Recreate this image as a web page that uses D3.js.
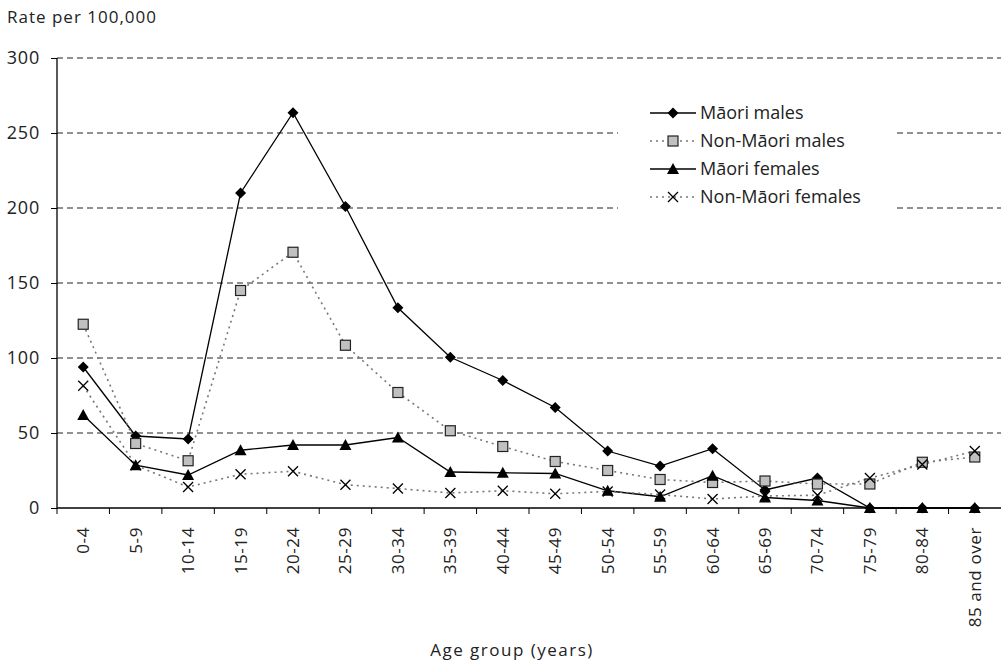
<!DOCTYPE html>
<html>
<head>
<meta charset="utf-8">
<script src="https://cdn.jsdelivr.net/npm/d3@7"></script>
<style>
  body { margin: 0; background: #fff; }
  text { font-family: "Open Sans", "Noto Sans", sans-serif; fill: #222; }
</style>
</head>
<body>
<div id="chart"></div>
<script>
// age groups on the x axis
var ageGroups = ["0-4", "5-9", "10-14", "15-19", "20-24", "25-29", "30-34", "35-39", "40-44",
                 "45-49", "50-54", "55-59", "60-64", "65-69", "70-74", "75-79", "80-84", "85 and over"];

// rates per 100,000
var maoriMales = [94, 48, 46, 210, 263.5, 201, 133.5, 100.5, 85, 67, 38, 28, 39.5, 12, 20, 0, 0, 0];
var nonMaoriMales = [122.5, 43, 31.5, 145, 170.5, 108.5, 77, 51.5, 41, 31, 25, 19, 17, 18, 16, 16, 30.5, 34];
var maoriFemales = [62, 28.5, 22, 38.5, 42, 42, 47, 24, 23.5, 23, 11.5, 7.5, 21.5, 7, 5, 0, 0, 0];
var nonMaoriFemales = [81.5, 28.5, 14, 22.5, 24.5, 15.5, 13, 10, 11.5, 9.5, 11, 9, 6, 8, 8.5, 20, 29, 38];

var yTicks = [0, 50, 100, 150, 200, 250, 300];

var series = [
  { name: "M\u0101ori males", values: maoriMales, marker: "diamond", dotted: false },
  { name: "Non-M\u0101ori males", values: nonMaoriMales, marker: "square", dotted: true },
  { name: "M\u0101ori females", values: maoriFemales, marker: "triangle", dotted: false },
  { name: "Non-M\u0101ori females", values: nonMaoriFemales, marker: "cross", dotted: true }
];

var margin = { top: 58, right: 2, bottom: 156, left: 57 },
    width = 1003 - margin.left - margin.right,
    height = 664 - margin.top - margin.bottom;

var svg = d3.select("#chart").append("svg")
    .attr("width", 1003)
    .attr("height", 664);

var g = svg.append("g")
    .attr("transform", "translate(" + margin.left + "," + margin.top + ")");

var x = d3.scaleBand().domain(ageGroups).range([0, width]);
var y = d3.scaleLinear().domain([0, 300]).range([height, 0]);

// dashed gridlines
g.selectAll(".grid")
  .data(yTicks.filter(function(d) { return d > 0; }))
  .enter().append("line")
    .attr("x1", 0)
    .attr("x2", width)
    .attr("y1", function(d) { return y(d); })
    .attr("y2", function(d) { return y(d); })
    .style("stroke", "#222")
    .style("stroke-width", 1)
    .style("stroke-dasharray", "6,4");

// y axis
var yAxis = g.append("g")
    .call(d3.axisLeft(y).tickValues(yTicks).tickSize(6).tickPadding(11));
yAxis.selectAll("text").style("font-size", "18px").style("letter-spacing", "0.8px");
yAxis.select(".domain").attr("d", "M0," + height + "V0");

// x axis
var xAxis = g.append("g")
    .attr("transform", "translate(0," + height + ")")
    .call(d3.axisBottom(x).tickSize(0).tickPadding(0));
xAxis.select(".domain").attr("d", "M0,0H" + width);
xAxis.selectAll(".tick line").remove();
xAxis.selectAll(".tick text")
    .attr("transform", "rotate(-90)")
    .attr("x", -19)
    .attr("y", 0)
    .attr("dy", "0.35em")
    .style("text-anchor", "end")
    .style("font-size", "17px")
    .style("letter-spacing", "0.6px");

// tick marks between categories
g.selectAll(".xtick")
  .data(ageGroups)
  .enter().append("line")
    .attr("x1", function(d) { return x(d); })
    .attr("x2", function(d) { return x(d); })
    .attr("y1", height)
    .attr("y2", height + 6)
    .style("stroke", "#000");

g.selectAll(".domain").style("stroke", "#000").style("stroke-width", 1.3);

var line = d3.line()
    .x(function(d, i) { return x(ageGroups[i]) + x.bandwidth() / 2; })
    .y(function(d) { return y(d); });

function drawMarker(sel, type) {
  if (type == "diamond") {
    sel.append("path").attr("d", "M0,-5.5L5.5,0L0,5.5L-5.5,0Z").style("fill", "#000");
  } else if (type == "square") {
    sel.append("rect").attr("x", -5).attr("y", -5).attr("width", 10).attr("height", 10)
      .style("fill", "#c0c0c0").style("stroke", "#222").style("stroke-width", 1.2);
  } else if (type == "triangle") {
    sel.append("path").attr("d", "M0,-6L6,5L-6,5Z").style("fill", "#000");
  } else {
    sel.append("path").attr("d", "M-5,-5L5,5M-5,5L5,-5")
      .style("stroke", "#000").style("stroke-width", 1.3).style("fill", "none");
  }
}

// lines first, then markers on top
series.forEach(function(s) {
  g.append("path")
    .datum(s.values)
    .attr("d", line)
    .style("fill", "none")
    .style("stroke", s.dotted ? "#777" : "#000")
    .style("stroke-width", s.dotted ? 1.6 : 1.3)
    .style("stroke-dasharray", s.dotted ? "2,4" : null);
});

series.forEach(function(s) {
  g.selectAll(".m-" + s.marker)
    .data(s.values)
    .enter().append("g")
      .attr("transform", function(d, i) {
        return "translate(" + (x(ageGroups[i]) + x.bandwidth() / 2) + "," + y(d) + ")";
      })
      .each(function() { drawMarker(d3.select(this), s.marker); });
});

// legend
var legend = svg.append("g").attr("transform", "translate(618,98)");
legend.append("rect")
    .attr("width", 277)
    .attr("height", 116)
    .style("fill", "#fff");

var items = legend.selectAll(".item")
  .data(series)
  .enter().append("g")
    .attr("transform", function(d, i) { return "translate(0," + (15 + i * 28) + ")"; });

items.append("line")
    .attr("x1", 32)
    .attr("x2", 78)
    .style("stroke", function(d) { return d.dotted ? "#777" : "#000"; })
    .style("stroke-width", function(d) { return d.dotted ? 1.6 : 1.3; })
    .style("stroke-dasharray", function(d) { return d.dotted ? "2,4" : null; });

items.append("g")
    .attr("transform", "translate(55,0)")
    .each(function(d) { drawMarker(d3.select(this), d.marker); });

items.append("text")
    .attr("x", 82)
    .attr("dy", "0.35em")
    .style("font-size", "18px")
    .text(function(d) { return d.name; });

// axis titles
svg.append("text")
    .attr("x", 7)
    .attr("y", 23)
    .style("font-size", "17px")
    .style("letter-spacing", "1px")
    .text("Rate per 100,000");

svg.append("text")
    .attr("x", 512)
    .attr("y", 656)
    .style("text-anchor", "middle")
    .style("font-size", "17px")
    .style("letter-spacing", "1.5px")
    .text("Age group (years)");
</script>
</body>
</html>
